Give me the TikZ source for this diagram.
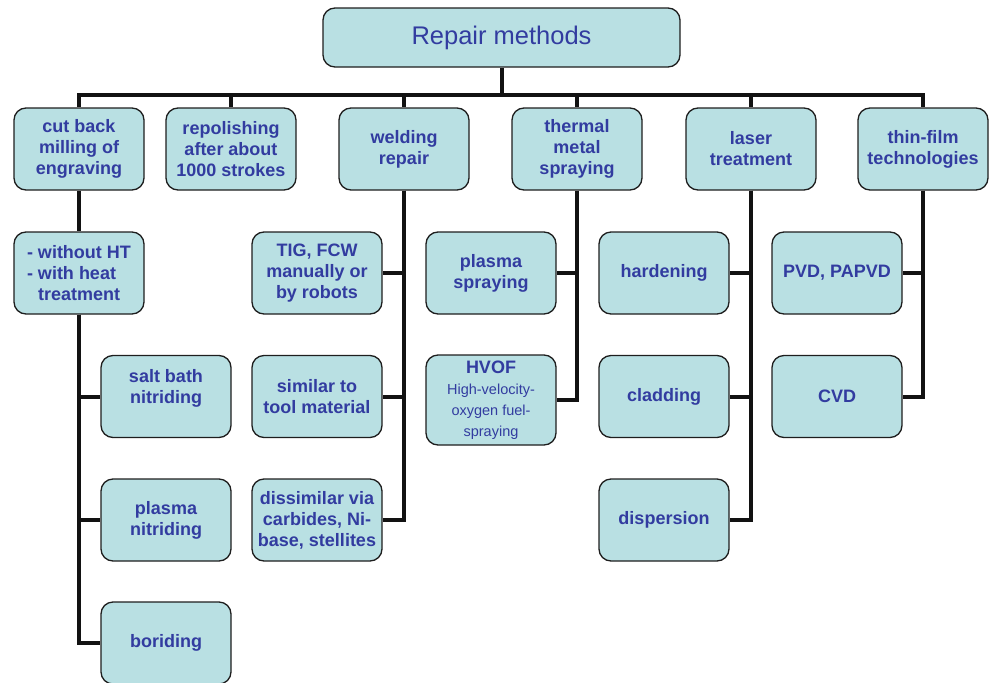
\documentclass[tikz,border=0pt]{standalone}
\usepackage{fontspec}
\setmainfont{Liberation Sans}
\definecolor{boxfill}{RGB}{185,224,227}
\definecolor{txtblue}{RGB}{50,60,160}
\definecolor{boxdraw}{RGB}{30,30,30}
\newcommand{\smallreg}{\fontsize{14.5}{19}\selectfont\mdseries}
\tikzset{
  x=1pt, y=-1pt,
  box/.style={draw=boxdraw, line width=1.3pt, fill=boxfill, rounded corners=12pt,
    minimum width=130pt, minimum height=82pt, inner sep=0pt, align=center,
    text=txtblue, font=\fontsize{18}{21}\selectfont\bfseries},
  conn/.style={line width=4pt, draw=black!93, line join=miter},
}
\begin{document}
\begin{tikzpicture}
\useasboundingbox (0,0) rectangle (989,683);
% root
\node[box, minimum width=357pt, minimum height=59pt, font=\fontsize{25.5}{30}\selectfont] (root) at (501.5,37.5) {Repair methods};
% level 1
\node[box] (cb) at (79,149) {cut back\\milling of\\engraving};
\node[box] (rp) at (231,149) {repolishing\\after about\\1000 strokes};
\node[box] (wr) at (404,149) {welding\\repair};
\node[box] (tm) at (577,149) {thermal\\metal\\spraying};
\node[box] (lt) at (751,149) {laser\\treatment};
\node[box] (tf) at (923,149) {thin-film\\technologies};
% cut back column
\node[box, align=left] (ht) at (79,273) {- without HT\\- with heat\\\hphantom{- }treatment};
\node[box] (sb) at (166,396.5) {salt bath\\nitriding\\\mbox{}};
\node[box] (pn) at (166,520) {plasma\\nitriding};
\node[box] (bo) at (166,643) {boriding};
% welding column
\node[box] (tig) at (317,273) {TIG, FCW\\manually or\\by robots};
\node[box] (sim) at (317,396.5) {similar to\\tool material};
\node[box] (dis) at (317,520) {dissimilar via\\carbides, Ni-\\base, stellites};
% thermal column
\node[box] (ps) at (491,273) {plasma\\spraying};
\node[box, minimum height=90pt] (hv) at (491,400) {HVOF\\\smallreg High-velocity-\\\smallreg oxygen fuel-\\\smallreg spraying};
% laser column
\node[box] (hd) at (664,273) {hardening};
\node[box] (cl) at (664,396.5) {cladding};
\node[box] (dp) at (664,520) {dispersion};
% thin film column
\node[box] (pvd) at (837,273) {PVD, PAPVD};
\node[box] (cvd) at (837,396.5) {CVD};
% connectors
\draw[conn] (root.south) -- ++(0,27) coordinate (bus);
\foreach \n in {cb,rp,wr,tm,lt,tf} \draw[conn] (bus) -| (\n.north);
\draw[conn] (cb.south) -- (ht.north);
\foreach \n in {sb,pn,bo} \draw[conn] (ht.south) |- (\n.west);
\foreach \n in {tig,sim,dis} \draw[conn] (wr.south) |- (\n.east);
\foreach \n in {ps,hv} \draw[conn] (tm.south) |- (\n.east);
\foreach \n in {hd,cl,dp} \draw[conn] (lt.south) |- (\n.east);
\foreach \n in {pvd,cvd} \draw[conn] (tf.south) |- (\n.east);
\end{tikzpicture}
\end{document}
